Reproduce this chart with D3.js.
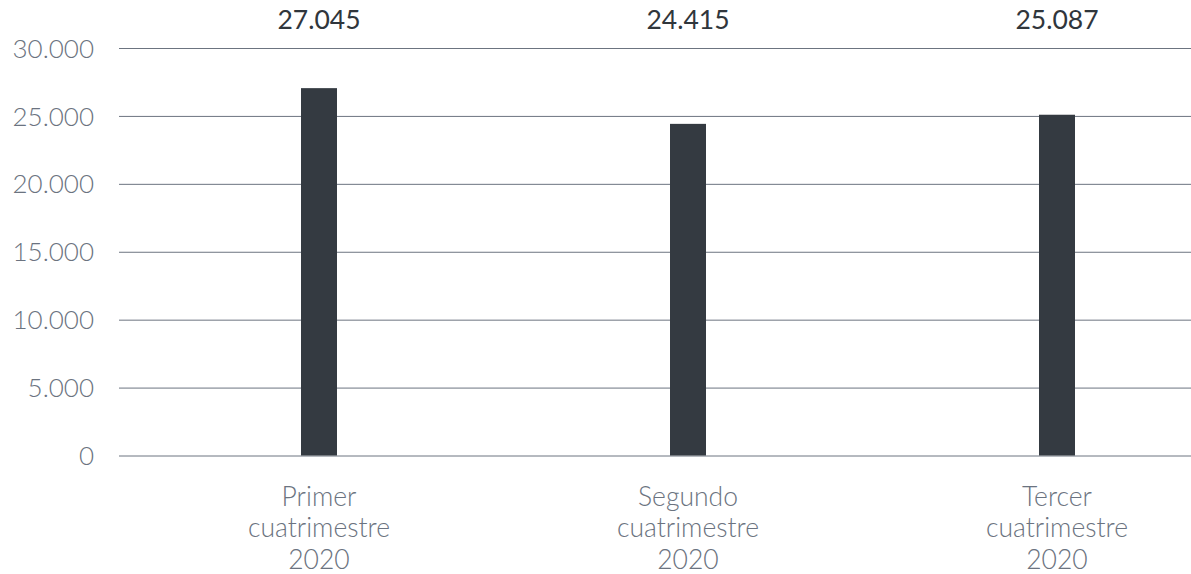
<!DOCTYPE html>
<html>
<head>
<meta charset="utf-8">
<script src="https://cdn.jsdelivr.net/npm/d3@7"></script>
<style>
  html, body { margin: 0; padding: 0; background: #fff; }
  svg { display: block; }
</style>
</head>
<body>
<svg id="chart" width="1191" height="574"></svg>
<script>
// data
var categories = [
  ['Primer', 'cuatrimestre', '2020'],
  ['Segundo', 'cuatrimestre', '2020'],
  ['Tercer', 'cuatrimestre', '2020']
];
var values = [27045, 24415, 25087];
var valueLabels = ['27.045', '24.415', '25.087'];
var yTicks = [0, 5000, 10000, 15000, 20000, 25000, 30000];

var width = 1191, height = 574;
var margin = { top: 48, right: 0, bottom: 119, left: 119 };

var svg = d3.select('#chart');

var keys = categories.map(function(d, i) { return 'c' + i; });

// bands run past the right edge, like the original crop
var x = d3.scaleBand()
  .domain(keys)
  .range([134.5, 1241.5])
  .padding(0);

var y = d3.scaleLinear()
  .domain([0, 30000])
  .range([height - margin.bottom + 0.5, margin.top]);

var barW = 36;
var fmt = function(v) { return d3.format(',')(v).replace(/,/g, '.'); };

// grid
var yAxis = d3.axisLeft(y)
  .tickValues(yTicks)
  .tickSize(-(width - margin.left))
  .tickPadding(25)
  .tickFormat(fmt);

var ga = svg.append('g')
  .attr('transform', 'translate(' + margin.left + ',0)')
  .call(yAxis);
ga.select('.domain').remove();
ga.selectAll('.tick line')
  .attr('stroke', '#6c7480')
  .attr('stroke-width', 1);
ga.selectAll('.tick text')
  .attr('fill', '#6b7380')
  .attr('font-family', 'Lato, sans-serif')
  .attr('font-weight', 300)
  .attr('font-size', '26px')
  .attr('dy', '0.35em');

// bars
svg.append('g').selectAll('rect')
  .data(values)
  .join('rect')
  .attr('x', function(d, i) { return x(keys[i]) + x.bandwidth() / 2 - barW / 2; })
  .attr('y', function(d) { return y(d); })
  .attr('width', barW)
  .attr('height', function(d) { return y(0) - y(d); })
  .attr('fill', '#343a41');

// value labels on top
svg.append('g').selectAll('text')
  .data(valueLabels)
  .join('text')
  .attr('x', function(d, i) { return x(keys[i]) + x.bandwidth() / 2; })
  .attr('y', 29)
  .attr('text-anchor', 'middle')
  .attr('fill', '#30363c')
  .attr('font-family', 'Lato, sans-serif')
  .attr('font-size', '26.5px')
  .text(function(d) { return d; });

// category labels
var cl = svg.append('g').selectAll('text')
  .data(categories)
  .join('text')
  .attr('x', function(d, i) { return x(keys[i]) + x.bandwidth() / 2; })
  .attr('y', 505.5)
  .attr('text-anchor', 'middle')
  .attr('fill', '#6b7380')
  .attr('font-family', 'Lato, sans-serif')
  .attr('font-weight', 300)
  .attr('font-size', '26.5px');

cl.selectAll('tspan')
  .data(function(d) { return d; })
  .join('tspan')
  .attr('x', function() { return d3.select(this.parentNode).attr('x'); })
  .attr('dy', function(d, i) { return i ? 31.5 : 0; })
  .text(function(d) { return d; });
</script>
</body>
</html>
